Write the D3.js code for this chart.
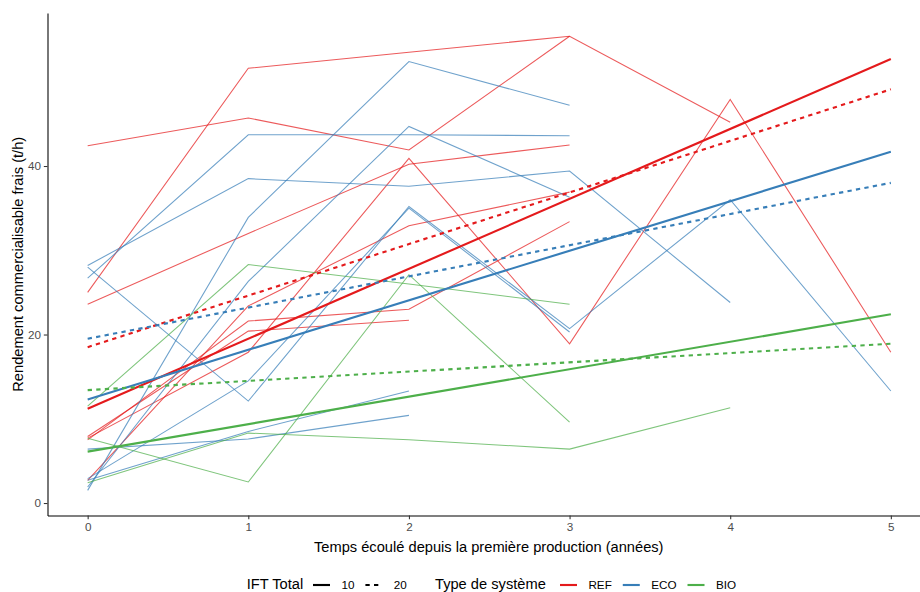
<!DOCTYPE html>
<html>
<head>
<meta charset="utf-8">
<script src="https://cdn.jsdelivr.net/npm/d3@7"></script>
<style>
  html, body { margin: 0; padding: 0; background: #fff; }
  svg { display: block; font-family: "Liberation Sans", Arial, sans-serif; }
</style>
</head>
<body>
<svg id="chart" width="920" height="592"></svg>
<script>
// ---------------- data ----------------
const systems = ["REF", "ECO", "BIO"];
const iftLevels = ["10", "20"];
const xTicks = [0, 1, 2, 3, 4, 5];
const yTicks = [0, 20, 40];

// individual farm trajectories (yield by year since first production, index = year)
const refTrajectories = [
  [42.4, 45.7, 41.9, 55.4],
  [25.0, 51.6, 53.5, 55.4, 45.2],
  [23.6, 32.0, 40.2, 42.5],
  [7.7, 17.9, 40.9, 18.9, 47.9, 17.9],
  [7.5, 21.6, 23.0, 33.4],
  [7.9, 20.4, 21.7],
  [2.7, 23.4, 32.9, 36.9]
];
const ecoTrajectories = [
  [26.7, 43.7, 43.7, 43.6],
  [28.2, 38.5, 37.6, 39.4, 23.8],
  [28.0, 12.1, 35.2, 20.7, 36.0, 13.3],
  [1.5, 33.9, 52.4, 47.2],
  [2.9, 14.5, 35.0, 20.3],
  [1.9, 26.3, 44.7, 36.3],
  [6.4, 7.6, 10.4],
  [2.7, 8.5, 13.3]
];
const bioTrajectories = [
  [11.5, 28.3, 26.0, 23.6],
  [7.7, 2.5, 27.1, 9.6],
  [2.4, 8.3, 7.5, 6.4, 11.3]
];

// linear trends per system (REF, ECO, BIO): value at year 0 and year 5, for IFT Total 10 and 20
const trendYears = [0, 5];
const trend10Start = [11.2, 12.3, 6.1];
const trend10End   = [52.7, 41.7, 22.4];
const trend20Start = [18.5, 19.5, 13.4];
const trend20End   = [49.1, 38.0, 18.9];

// ---------------- layout ----------------
const colors = { REF: "#E41A1C", ECO: "#377EB8", BIO: "#4DAF4A" };
const panel = { left: 47.5, right: 931, top: 13, bottom: 515.5 };

const svg = d3.select("#chart");
const x = d3.scaleLinear().domain([-0.25, 5.25]).range([panel.left, panel.right]);
const y = d3.scaleLinear().domain([-1.48, 58.16]).range([panel.bottom, panel.top]);

const line = d3.line().x((d, i) => x(i)).y(d => y(d));

// thin trajectories
const trajGroups = [
  ["REF", refTrajectories],
  ["ECO", ecoTrajectories],
  ["BIO", bioTrajectories]
];
const gTraj = svg.append("g");
trajGroups.forEach(([sys, arr]) => {
  gTraj.selectAll(null).data(arr).enter().append("path")
    .attr("d", d => line(d))
    .attr("fill", "none")
    .attr("stroke", colors[sys])
    .attr("stroke-opacity", 0.72)
    .attr("stroke-width", 1.07);
});

// trend lines
const trendLine = d3.line().x(d => x(d[0])).y(d => y(d[1]));
const gTrend = svg.append("g");
systems.forEach((sys, i) => {
  [[trend10Start, trend10End, null], [trend20Start, trend20End, "4.3,4.3"]].forEach(([s, e, dash]) => {
    gTrend.append("path")
      .attr("d", trendLine([[trendYears[0], s[i]], [trendYears[1], e[i]]]))
      .attr("fill", "none")
      .attr("stroke", colors[sys])
      .attr("stroke-width", 2.13)
      .attr("stroke-dasharray", dash);
  });
});

// axes
const xAxis = d3.axisBottom(x).tickValues(xTicks).tickFormat(d3.format("d"))
  .tickSize(3.67).tickSizeOuter(0).tickPadding(3.5);
const yAxis = d3.axisLeft(y).tickValues(yTicks).tickFormat(d3.format("d"))
  .tickSize(3.67).tickSizeOuter(0).tickPadding(2.9);

const gx = svg.append("g").attr("transform", `translate(0,${panel.bottom})`).call(xAxis);
const gy = svg.append("g").attr("transform", `translate(${panel.left},0)`).call(yAxis);
[gx, gy].forEach(g => {
  g.select(".domain").attr("stroke", "#000").attr("stroke-width", 1.07);
  g.selectAll(".tick line").attr("stroke", "#333").attr("stroke-width", 1.07);
  g.selectAll(".tick text").attr("fill", "#4D4D4D")
    .style("font-size", "11.7px").style("font-family", "'Liberation Sans', Arial, sans-serif");
});

// axis titles
svg.append("text")
  .attr("x", (panel.left + panel.right) / 2 - 0.5)
  .attr("y", 552)
  .attr("text-anchor", "middle")
  .style("font-size", "14.67px")
  .text("Temps écoulé depuis la première production (années)");

svg.append("text")
  .attr("transform", `translate(22.5,${(panel.top + panel.bottom) / 2}) rotate(-90)`)
  .attr("text-anchor", "middle")
  .style("font-size", "14.67px")
  .text("Rendement commercialisable frais (t/h)");

// legend
const legY = 585, legBase = 588.5;
const leg = svg.append("g");
leg.append("text").attr("x", 246.7).attr("y", legBase).style("font-size", "14.67px").text("IFT Total");
let kx = 313;
iftLevels.forEach((lv, i) => {
  leg.append("line").attr("x1", kx).attr("x2", kx + 17).attr("y1", legY).attr("y2", legY)
    .attr("stroke", "#000").attr("stroke-width", 2.13)
    .attr("stroke-dasharray", i === 0 ? null : "4.3,4.3");
  const t = leg.append("text").attr("x", kx + 28.4).attr("y", legBase).style("font-size", "11.7px").text(lv);
  kx = kx + 28.4 + t.node().getComputedTextLength() + 11;
});
leg.append("text").attr("x", 435).attr("y", legBase).style("font-size", "14.67px").text("Type de système");
kx = 560;
systems.forEach(sys => {
  leg.append("line").attr("x1", kx).attr("x2", kx + 17).attr("y1", legY).attr("y2", legY)
    .attr("stroke", colors[sys]).attr("stroke-width", 2.13);
  const t = leg.append("text").attr("x", kx + 28.4).attr("y", legBase).style("font-size", "11.7px").text(sys);
  kx = kx + 28.4 + t.node().getComputedTextLength() + 11;
});
</script>
</body>
</html>
